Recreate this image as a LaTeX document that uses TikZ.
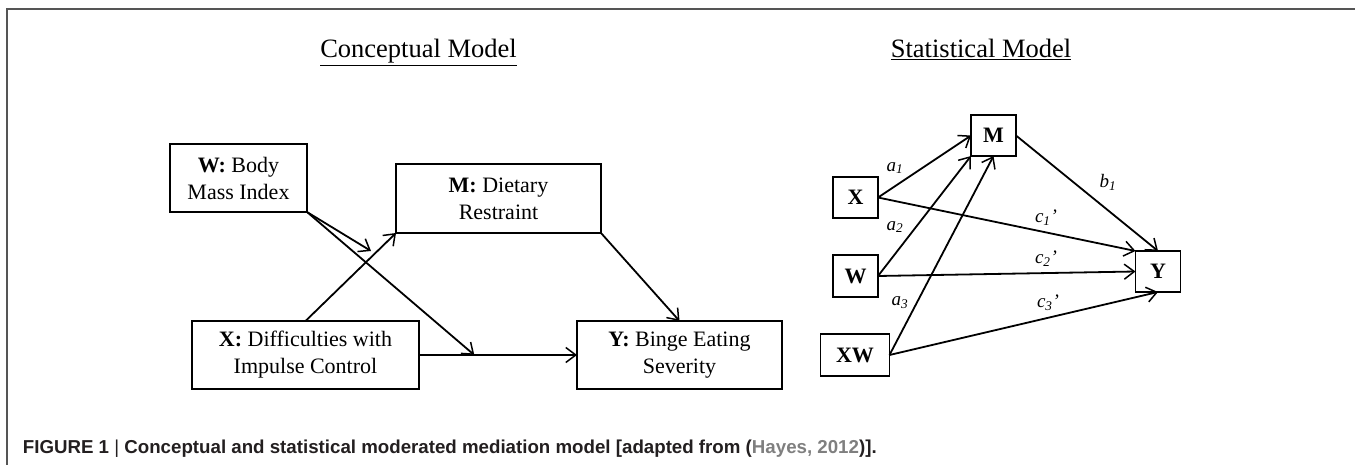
\documentclass[tikz,border=0pt]{standalone}
\usepackage{fontspec}
\setmainfont{Liberation Serif}
\newfontfamily\capfont{Liberation Sans}
\usetikzlibrary{arrows.meta,calc}
\definecolor{frameg}{HTML}{555555}
\definecolor{capg}{HTML}{231F20}
\definecolor{linkg}{HTML}{7F7F7F}
\tikzset{
  box/.style={draw, line width=1.4pt, inner sep=0pt, outer sep=0pt, align=center,
    font=\fontsize{22}{27}\selectfont},
  sbox/.style={box, line width=1.8pt, font=\fontsize{22}{27}\selectfont\bfseries},
  arr/.style={line width=1.8pt, -{Straight Barb[length=10pt,width=15pt,line width=1.5pt]}},
  lab/.style={font=\fontsize{19}{21}\selectfont\itshape, inner sep=0pt},
  ttl/.style={font=\fontsize{26.5}{30}\selectfont, inner sep=0pt, anchor=base},
}
\begin{document}
\begin{tikzpicture}[x=1pt,y=-1pt]
\useasboundingbox (0,0) rectangle (1355,465);
\draw[frameg, line width=1.6pt] (7,465) -- (7,9) -- (1355,9);
% titles
\node[ttl] (t1) at (418.5,58) {\underline{Conceptual Model}};
\node[ttl] (t2) at (981,58) {\underline{Statistical Model}};
% conceptual model
\node[box, minimum width=137pt, minimum height=68pt] (cW) at (238.5,178) {\textbf{W:} Body\\Mass Index};
\node[box, minimum width=205pt, minimum height=69pt] (cM) at (498.5,198.5) {\textbf{M:} Dietary\\Restraint};
\node[box, minimum width=227pt, minimum height=68pt] (cX) at (305.5,355) {\textbf{X:} Difficulties with\\Impulse Control};
\node[box, minimum width=205pt, minimum height=68pt] (cY) at (679.5,355) {\textbf{Y:} Binge Eating\\Severity};
\coordinate (m1) at (371,251);
\coordinate (m2) at ($(cX.east)!0.35!(cY.west)$);
\draw[arr] (cX.north) -- (cM.south west);
\draw[arr] (cX.east) -- (cY.west);
\draw[arr] (cM.south east) -- (cY.north);
\draw[arr] (cW.south east) -- (m1);
\draw[arr] (cW.south east) -- (m2);
% statistical model
\node[sbox, minimum width=45pt, minimum height=41pt] (sM) at (993.5,135.5) {M};
\node[sbox, minimum width=45pt, minimum height=41pt] (sX) at (855.5,197.5) {X};
\node[sbox, minimum width=45pt, minimum height=42pt] (sW) at (855.5,276) {W};
\node[sbox, minimum width=69pt, minimum height=42pt] (sXW) at (855,355) {XW};
\node[sbox, minimum width=45pt, minimum height=41pt] (sY) at (1158,271.5) {Y};
\draw[arr] (sX.east) -- (sM.west);
\draw[arr] (sW.east) -- (sM.south west);
\draw[arr] (sXW.east) -- (sM.south);
\draw[arr] (sM.east) -- (sY.north);
\draw[arr] (sX.east) -- (sY.north west);
\draw[arr] (sW.east) -- (sY.west);
\draw[arr] (sXW.east) -- (sY.south);
\node[lab] (la1) at (895,168) {a\textsubscript{1}};
\node[lab] (la2) at (895,227) {a\textsubscript{2}};
\node[lab] (la3) at (900,303) {a\textsubscript{3}};
\node[lab] (lb1) at (1108,182) {b\textsubscript{1}};
\node[lab] (lc1) at (1046,218) {c\textsubscript{1}'};
\node[lab] (lc2) at (1046,259) {c\textsubscript{2}'};
\node[lab] (lc3) at (1048,303) {c\textsubscript{3}'};
% caption
\node[anchor=base west, inner sep=0pt, text=capg, font=\capfont\bfseries\fontsize{18.7}{22}\selectfont] (cap) at (22.7,453)
  {FIGURE 1 {\fontseries{m}\selectfont|} Conceptual and statistical moderated mediation model [adapted from ({\color{linkg}Hayes, 2012})].};
\end{tikzpicture}
\end{document}
